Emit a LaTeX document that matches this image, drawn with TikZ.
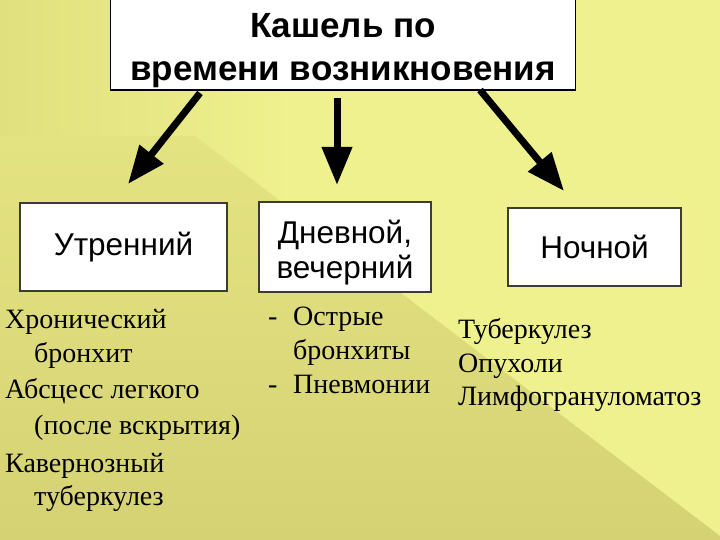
\documentclass[tikz,border=0pt]{standalone}
\usepackage{fontspec}
\setmainfont{Liberation Serif}
\setsansfont{Liberation Sans}
\usetikzlibrary{arrows.meta}
\definecolor{bglight}{HTML}{EEF18D}
\definecolor{bgdark}{HTML}{D5D274}
\definecolor{bgleft}{HTML}{E1E07E}
\definecolor{bgmid}{HTML}{E4E381}
\definecolor{boxline}{HTML}{3C3C34}
\begin{document}
\begin{tikzpicture}[x=1pt,y=-1pt,
    box/.style={draw=boxline,line width=1.3pt,fill=white,inner sep=0pt,align=center,
      font=\sffamily\fontsize{31.5}{35}\selectfont},
    item/.style={inner sep=0pt,anchor=base west,font=\fontsize{28}{34}\selectfont},
    arr/.style={line width=7pt,-{Triangle[length=38pt,width=29pt]}}]
  % background
  \useasboundingbox (0,0) rectangle (720,540);
  \shade[left color=bgleft,right color=bglight] (0,0) rectangle (290,540);
  \fill[bglight] (289,0) rectangle (720,540);
  \shade[top color=bgmid,bottom color=bgdark]
    (0,136) -- (195,136) -- (720,536) -- (720,540) -- (0,540) -- cycle;
  % boxes
  \node[box,draw=black,font=\sffamily\bfseries\fontsize{35}{43}\selectfont,
    minimum width=465pt,minimum height=92pt] (title) at (343,44)
    {\rule{0pt}{37pt}Кашель по\\времени возникновения};
  \node[box,minimum width=207pt,minimum height=88pt] (morning) at (123.5,247) {Утренний};
  \node[box,minimum width=172pt,minimum height=90pt] (day) at (345,247)
    {\rule{0pt}{34pt}Дневной,\\вечерний};
  \node[box,minimum width=173pt,minimum height=78pt] (night) at (594.5,247) {Ночной};
  % arrows
  \coordinate (tailL) at (200,93);
  \coordinate (tipL) at (128,184);
  \coordinate (tailM) at (337,98);
  \coordinate (tipM) at (337,185);
  \coordinate (tailR) at (480,90);
  \coordinate (tipR) at (564,191);
  \draw[arr] (tailL) -- (tipL);
  \draw[arr] (tailM) -- (tipM);
  \draw[arr] (tailR) -- (tipR);
  % lists
  \foreach \x/\y/\t [count=\i] in {5/328/Хронический, 34/362/бронхит, 5/398/Абсцесс легкого,
      34/434/{(после вскрытия)}, 5/472/Кавернозный, 34/505/туберкулез}
    \node[item] (morn\i) at (\x,\y) {\t};
  \foreach \y/\t [count=\i] in {325/Острые, 359/бронхиты, 393/Пневмонии}
    \node[item] (day\i) at (293,\y) {\t};
  \node[item] (dashA) at (268,325) {-};
  \node[item] (dashB) at (268,393) {-};
  \foreach \y/\t [count=\i] in {338/Туберкулез, 372/Опухоли, 405/Лимфогрануломатоз}
    \node[item] (night\i) at (458,\y) {\t};
\end{tikzpicture}
\end{document}
